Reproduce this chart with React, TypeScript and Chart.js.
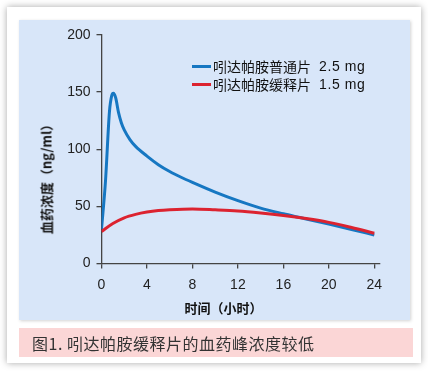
import React, { useEffect, useRef } from "react";
import { Chart, registerables } from "chart.js";

Chart.register(...registerables);

// Time (hours) and plasma concentration (ng/ml)
const blueTimes = [0, 0.35, 0.7, 0.9, 1.05, 1.25, 1.5, 1.75, 2, 2.5, 3, 4, 5, 6, 7, 8, 10, 12, 14, 16, 17, 18, 20, 22, 24];
const blueValues = [30, 72, 133, 147, 149, 145, 132, 123, 117, 108.5, 102.5, 94, 86.5, 80.5, 75.5, 71, 62.5, 55, 48.5, 43.5, 41.2, 39, 34.5, 29.8, 25];

const redTimes = [0, 1, 2, 3, 4, 5, 6, 8, 10, 12, 14, 16, 18, 20, 22, 24];
const redValues = [28, 35, 40, 43, 45, 46.3, 47, 47.7, 47, 46, 44.2, 42, 39.3, 36, 31.5, 26.5];

const blueLabel = "吲达帕胺普通片";
const blueDose = "2.5 mg";
const redLabel = "吲达帕胺缓释片";
const redDose = "1.5 mg";

const xTicks = [0, 4, 8, 12, 16, 20, 24];
const yTicks = [0, 50, 100, 150, 200];

const xTitle = "时间（小时）";
const yTitle = "血药浓度（ng/ml）";
const caption = "图1. 吲达帕胺缓释片的血药峰浓度较低";

const BLUE = "#1677c2";
const RED = "#dc2330";
const AXIS = "#444";

export default function App() {
  const canvasRef = useRef<HTMLCanvasElement | null>(null);

  useEffect(() => {
    if (!canvasRef.current) return;
    const chart = new Chart(canvasRef.current, {
      type: "line",
      data: {
        datasets: [
          {
            label: blueLabel + " " + blueDose,
            data: blueTimes.map((t, i) => ({ x: t, y: blueValues[i] })),
            borderColor: BLUE,
            borderWidth: 3,
            pointRadius: 0,
            cubicInterpolationMode: "monotone",
            order: 2,
          },
          {
            label: redLabel + " " + redDose,
            data: redTimes.map((t, i) => ({ x: t, y: redValues[i] })),
            borderColor: RED,
            borderWidth: 3,
            pointRadius: 0,
            cubicInterpolationMode: "monotone",
            order: 1,
          },
        ],
      },
      options: {
        animation: false,
        responsive: false,
        maintainAspectRatio: false,
        layout: { padding: { top: 15, right: 30, left: 0, bottom: 0 } },
        plugins: { legend: { display: false }, tooltip: { enabled: false } },
        scales: {
          x: {
            type: "linear",
            min: 0,
            max: 24.5,
            afterBuildTicks: (s: any) => {
              s.ticks = xTicks.map((v) => ({ value: v }));
            },
            afterFit: (s: any) => {
              s.height = 56.5;
            },
            grid: { drawOnChartArea: false, drawTicks: true, tickLength: 5, color: AXIS, lineWidth: 1.3 },
            border: { display: true, color: AXIS, width: 1.3 },
            ticks: {
              padding: 8,
              color: "#222",
              font: { family: "'Liberation Sans', Arial, sans-serif", size: 14 },
            },
          },
          y: {
            type: "linear",
            min: 0,
            max: 200,
            afterBuildTicks: (s: any) => {
              s.ticks = yTicks.map((v) => ({ value: v }));
            },
            afterFit: (s: any) => {
              s.width = 82.5;
            },
            grid: { drawOnChartArea: false, drawTicks: true, tickLength: 5, color: AXIS, lineWidth: 1.3 },
            border: { display: true, color: AXIS, width: 1.3 },
            ticks: {
              padding: 6,
              color: "#222",
              font: { family: "'Liberation Sans', Arial, sans-serif", size: 14 },
            },
          },
        },
      },
    });
    return () => chart.destroy();
  }, []);

  const cjk = "'Noto Sans CJK SC', 'Noto Sans', sans-serif";
  const latin = "'Liberation Sans', Arial, sans-serif";

  const legendRow = (color: string, label: string, dose: string, top: number) => (
    <div style={{ position: "absolute", left: 192, top: top - 10, height: 20, display: "flex", alignItems: "center", whiteSpace: "pre" }}>
      <span style={{ display: "inline-block", width: 19, height: 3, background: color, marginRight: 2 }} />
      <span style={{ fontFamily: cjk, fontSize: 14, color: "#111", lineHeight: "20px" }}>{label}</span>
      <span style={{ fontFamily: latin, fontSize: 14, color: "#111", marginLeft: 8, letterSpacing: 0.6, lineHeight: "20px" }}>{dose}</span>
    </div>
  );

  return (
    <div style={{ position: "absolute", left: 0, top: 0, width: 428, height: 379, background: "#fff", overflow: "hidden" }}>
      <div style={{ position: "absolute", left: 7, top: 7, width: 414, height: 356, background: "#fff", boxShadow: "0 0 7px rgba(0,0,0,0.35)" }} />
      <div style={{ position: "absolute", left: 19, top: 20, width: 391, height: 300, background: "#d8e6f9", boxShadow: "1px 1px 3px rgba(0,0,0,0.18)" }} />
      <canvas ref={canvasRef} width={391} height={300} style={{ position: "absolute", left: 19, top: 20, width: 391, height: 300 }} />
      {legendRow(BLUE, blueLabel, blueDose, 66)}
      {legendRow(RED, redLabel, redDose, 84)}
      <div style={{ position: "absolute", left: 223.5, top: 307, transform: "translate(-50%, -50%)", fontFamily: cjk, fontWeight: 700, fontSize: 13, color: "#111", whiteSpace: "nowrap" }}>
        {xTitle}
      </div>
      <div style={{ position: "absolute", left: 46, top: 176, transform: "translate(-50%, -50%) rotate(-90deg)", fontFamily: cjk, fontWeight: 700, fontSize: 13, color: "#111", whiteSpace: "nowrap" }}>
        {yTitle}
      </div>
      <div style={{ position: "absolute", left: 19, top: 328, width: 394, height: 29, background: "#fbd6d6" }} />
      <div style={{ position: "absolute", left: 32, top: 343, transform: "translateY(-50%)", fontFamily: cjk, fontSize: 16, color: "#333", whiteSpace: "nowrap", letterSpacing: 0.5 }}>
        {caption}
      </div>
    </div>
  );
}
